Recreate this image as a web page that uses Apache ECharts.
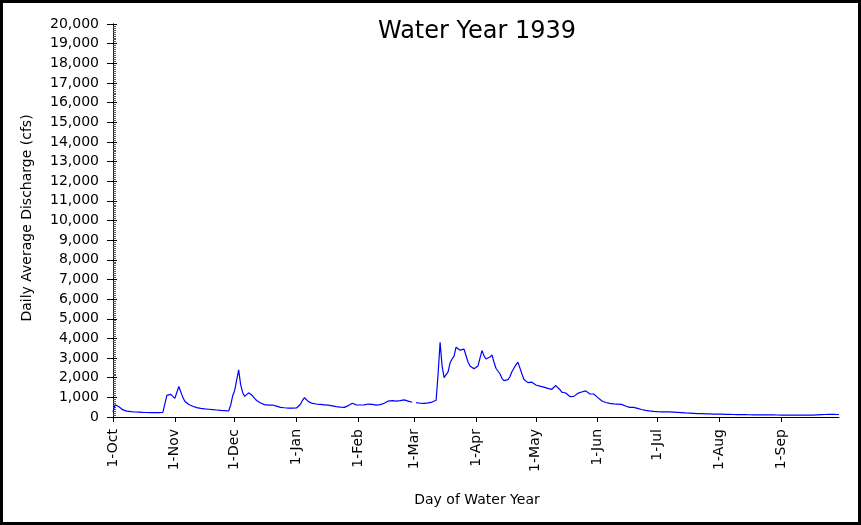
<!DOCTYPE html>
<html>
<head>
<meta charset="utf-8">
<script src="https://cdn.jsdelivr.net/npm/echarts@6/dist/echarts.min.js"></script>
<style>
html,body{margin:0;padding:0;background:#fff;}
#chart{width:861px;height:525px;}
</style>
</head>
<body>
<div id="chart"></div>
<script>
// Daily average discharge (cfs), Water Year 1939, one array per month
var octQ = [250, 620, 640, 520, 420, 360, 320, 300, 280, 270, 260, 255, 250, 245, 240, 235, 235, 230, 230, 225, 225, 225, 225, 225, 230, 230, 235, 1100, 1000, 1150, 1050];
var novQ = [950, 850, 1550, 1500, 1000, 800, 700, 640, 590, 550, 510, 480, 460, 440, 425, 415, 405, 395, 385, 375, 365, 355, 345, 335, 330, 320, 315, 305, 600, 1080];
var decQ = [1350, 1300, 2400, 1650, 1250, 1050, 1150, 1230, 1180, 1080, 950, 840, 760, 710, 660, 630, 610, 600, 600, 610, 590, 550, 510, 490, 480, 470, 460, 455, 450, 450, 455];
var janQ = [460, 500, 650, 850, 980, 880, 780, 720, 690, 670, 660, 650, 640, 630, 620, 610, 600, 590, 570, 550, 530, 510, 500, 490, 490, 520, 580, 650, 700, 730, 620];
var febQ = [600, 610, 610, 620, 640, 660, 660, 640, 620, 600, 610, 630, 650, 700, 770, 810, 830, 830, 820, 810, 815, 830, 860, 870, 850, 810, 770, 750];
var marQ = [null, 730, 710, 700, 680, 690, 700, 720, 730, 760, 800, 850, 2200, 3800, 2600, 2000, 1920, 2300, 2750, 2950, 3100, 3550, 3500, 3400, 3330, 3450, 3500, 2800, 2600, 2530, 2450];
var aprQ = [2360, 2600, 3000, 3380, 3110, 2950, 2870, 3050, 3160, 2800, 2480, 2450, 2200, 1970, 1850, 1800, 1900, 2050, 2300, 2480, 2650, 2790, 2500, 2200, 1920, 1820, 1750, 1760, 1770, 1700];
var mayQ = [1630, 1600, 1570, 1550, 1520, 1490, 1460, 1430, 1410, 1500, 1600, 1550, 1400, 1270, 1250, 1220, 1120, 1040, 1035, 1050, 1070, 1200, 1250, 1270, 1300, 1330, 1260, 1180, 1170, 1170, 1150];
var junQ = [1000, 900, 830, 780, 740, 710, 690, 680, 670, 660, 655, 650, 640, 610, 560, 510, 490, 490, 490, 470, 440, 400, 380, 360, 340, 325, 310, 295, 285, 275];
var julQ = [270, 268, 265, 262, 260, 258, 256, 255, 250, 245, 235, 225, 220, 215, 205, 200, 195, 190, 185, 180, 175, 170, 168, 165, 160, 158, 155, 152, 150, 148, 146];
var augQ = [145, 143, 140, 138, 135, 133, 130, 128, 125, 125, 122, 120, 120, 118, 118, 115, 115, 113, 112, 112, 110, 110, 110, 108, 108, 105, 105, 105, 103, 103, 102];
var sepQ = [100, 100, 100, 98, 98, 98, 97, 97, 96, 96, 95, 95, 95, 96, 97, 98, 100, 105, 110, 115, 120, 125, 128, 130, 130, 130, 130, 128, 128, 127];

var monthNames = ['Oct', 'Nov', 'Dec', 'Jan', 'Feb', 'Mar', 'Apr', 'May', 'Jun', 'Jul', 'Aug', 'Sep'];
var monthSeries = [octQ, novQ, decQ, janQ, febQ, marQ, aprQ, mayQ, junQ, julQ, augQ, sepQ];

var chartTitle = 'Water Year 1939';
var yAxisTitle = 'Daily Average Discharge (cfs)';
var xAxisTitle = 'Day of Water Year';

var categories = [];
var values = [];
monthSeries.forEach(function (arr, m) {
  arr.forEach(function (v, i) {
    categories.push((i + 1) + '-' + monthNames[m]);
    values.push(v);
  });
});

function isMonthStart(index, value) {
  return String(value).indexOf('1-') === 0;
}

var FONT = '"DejaVu Sans", sans-serif';

var chart = echarts.init(document.getElementById('chart'), null, {renderer: 'canvas'});
chart.setOption({
  animation: false,
  backgroundColor: '#ffffff',
  grid: {left: 113, right: 22, top: 24, bottom: 108, containLabel: false},
  xAxis: {
    type: 'category',
    data: categories,
    boundaryGap: false,
    axisLine: {show: true, onZero: false, lineStyle: {color: '#000', width: 1}},
    axisTick: {show: true, interval: isMonthStart, length: 5, lineStyle: {color: '#000'}},
    axisLabel: {
      show: true, interval: isMonthStart, rotate: 90, margin: 12,
      color: '#000', fontFamily: FONT, fontSize: 14
    },
    splitLine: {show: false}
  },
  yAxis: [
    {
      type: 'value', min: 0, max: 20000, interval: 1000, position: 'left',
      axisLine: {show: true, lineStyle: {color: '#000', width: 1}},
      axisTick: {show: true, length: 6, lineStyle: {color: '#000'}},
      axisLabel: {
        show: true, margin: 14, color: '#000', fontFamily: FONT, fontSize: 14,
        formatter: function (v) { return v.toLocaleString('en-US'); }
      },
      splitLine: {show: false}
    },
    {
      type: 'value', min: 0, max: 20000, interval: 1000, position: 'left',
      axisLine: {show: true, lineStyle: {color: '#000', width: 1}},
      axisTick: {show: true, inside: true, length: 4, lineStyle: {color: '#000'}},
      minorTick: {show: true, splitNumber: 10, length: 3, lineStyle: {color: '#555'}},
      axisLabel: {show: false},
      splitLine: {show: false}
    }
  ],
  series: [{
    type: 'line',
    data: values,
    yAxisIndex: 0,
    showSymbol: false,
    connectNulls: false,
    lineStyle: {color: '#0000ff', width: 1.2},
    itemStyle: {color: '#0000ff'}
  }],
  graphic: [
    {
      type: 'rect', silent: true,
      shape: {x: 1.5, y: 1.5, width: 858, height: 522},
      style: {fill: 'none', stroke: '#000', lineWidth: 3}
    },
    {
      type: 'text', silent: true, x: 477, y: 32,
      style: {text: chartTitle, font: '24px "DejaVu Sans", sans-serif', fill: '#000',
              textAlign: 'center', textVerticalAlign: 'middle', align: 'center', verticalAlign: 'middle'}
    },
    {
      type: 'text', silent: true, x: 27, y: 218, rotation: Math.PI / 2,
      style: {text: yAxisTitle, font: '14px "DejaVu Sans", sans-serif', fill: '#000',
              textAlign: 'center', textVerticalAlign: 'middle', align: 'center', verticalAlign: 'middle'}
    },
    {
      type: 'text', silent: true, x: 477, y: 500,
      style: {text: xAxisTitle, font: '14px "DejaVu Sans", sans-serif', fill: '#000',
              textAlign: 'center', textVerticalAlign: 'middle', align: 'center', verticalAlign: 'middle'}
    }
  ]
});
</script>
</body>
</html>
